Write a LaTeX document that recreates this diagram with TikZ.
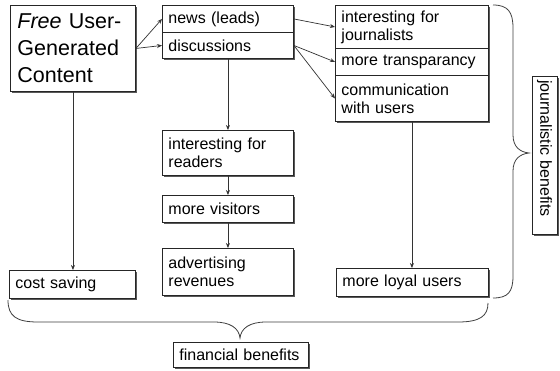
\documentclass[tikz,border=0pt]{standalone}
\usepackage{fontspec}
\setmainfont{Liberation Sans}
\usetikzlibrary{arrows.meta,shadows}
\begin{document}
\begin{tikzpicture}[x=1pt,y=-1pt,
  box/.style={draw=black!85, line width=0.9pt, fill=white, anchor=north west,
    inner xsep=6pt, inner ysep=0pt, align=left,
    font=\fontsize{16}{18}\selectfont,
    drop shadow={shadow xshift=1.6pt, shadow yshift=-1.6pt, fill=black!65, opacity=1}},
  conn/.style={draw=black!80, line width=0.7pt, -{Stealth[length=5pt,width=4pt]}},
  bracestyle/.style={draw=black!75, line width=0.8pt}]
\useasboundingbox[fill=white] (0,0) rectangle (560,370);

\node[box, minimum width=125pt, text width=111pt, minimum height=86pt, inner xsep=7pt,
  font=\fontsize{21.5}{27}\selectfont] (ugc) at (10,5) {\textit{Free} User-\\Generated\\Content};

\node[box, minimum width=131pt, text width=119pt, minimum height=27pt] (news) at (162,5) {news (leads)};
\node[box, minimum width=131pt, text width=119pt, minimum height=26pt] (disc) at (162,32) {discussions};

\node[box, minimum width=153pt, text width=141pt, minimum height=43pt] (journ) at (335,5) {interesting for\\journalists};
\node[box, minimum width=153pt, text width=141pt, minimum height=27pt] (transp) at (335,48) {more transparancy};
\node[box, minimum width=153pt, text width=141pt, minimum height=46pt] (comm) at (335,75) {communication\\with users};

\node[box, minimum width=131pt, text width=119pt, minimum height=45pt] (readers) at (162,130) {interesting for\\readers};
\node[box, minimum width=131pt, text width=119pt, minimum height=27pt] (visitors) at (162,195) {more visitors};
\node[box, minimum width=131pt, text width=119pt, minimum height=47pt] (advert) at (162,248) {advertising\\revenues};

\node[box, minimum width=126pt, text width=114pt, minimum height=28pt] (cost) at (9,270) {cost saving};
\node[box, minimum width=152pt, text width=140pt, minimum height=28pt] (loyal) at (336,268) {more loyal users};

\node[box, minimum width=135pt, text width=123pt, minimum height=25pt] (fb) at (173,342) {financial benefits};
\node[box, anchor=center, rotate=-90, minimum width=158pt, text width=150pt, inner xsep=4pt,
  minimum height=25pt] (jb) at (544.5,155) {journalistic benefits};

\draw[conn] (ugc.east) -- (news.west);
\draw[conn] (ugc.east) -- (disc.west);
\draw[conn] (news.east) -- (journ.west);
\draw[conn] (disc.east) -- (transp.west);
\draw[conn] (disc.east) -- (comm.west);
\draw[conn] (disc.south) -- (readers.north);
\draw[conn] (readers.south) -- (visitors.north);
\draw[conn] (visitors.south) -- (advert.north);
\draw[conn] (ugc.south) -- (ugc.south |- cost.north);
\draw[conn] (comm.south) -- (comm.south |- loyal.north);

\draw[bracestyle] (493,5) .. controls (508,5) and (513,12) .. (513,28) -- (513,135)
  .. controls (513,147) and (520,152) .. (529,153)
  .. controls (520,154) and (513,159) .. (513,171) -- (513,276)
  .. controls (513,292) and (508,298) .. (493,298);

\draw[bracestyle] (8,300) .. controls (8,316) and (16,322) .. (38,322) -- (214,322)
  .. controls (230,322) and (239,328) .. (240,338)
  .. controls (241,328) and (250,322) .. (266,322) -- (458,322)
  .. controls (480,322) and (488,316) .. (488,303);
\end{tikzpicture}
\end{document}
